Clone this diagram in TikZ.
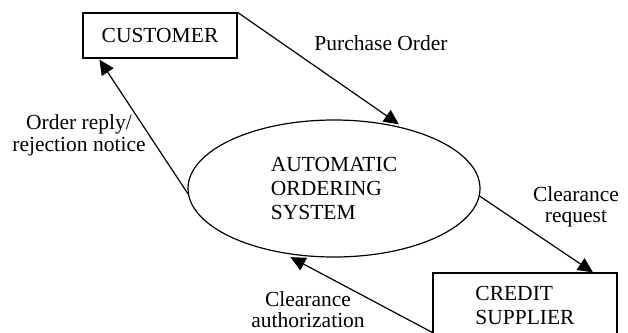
\documentclass[tikz,border=0pt]{standalone}
\usepackage{fontspec}
\setmainfont{Liberation Serif}
\usetikzlibrary{arrows.meta,shapes.geometric}
\begin{document}
\begin{tikzpicture}[x=1pt,y=-1pt,
	entity/.style={draw,line width=1.2pt,inner sep=0pt,font=\fontsize{21.5}{24}\selectfont},
	flow/.style={line width=1.2pt,-{Triangle[length=15pt,width=14pt]}},
	flowlabel/.style={align=center,inner sep=0pt,font=\fontsize{21.5}{21.5}\selectfont}]
	\useasboundingbox (0,0) rectangle (628,332);
	\node[entity,ellipse,minimum width=292pt,minimum height=137pt,align=left] (system) at (334,188.5) {AUTOMATIC\\ORDERING\\SYSTEM};
	\node[entity,minimum width=154pt,minimum height=45pt] (customer) at (160,35.5) {CUSTOMER};
	\node[entity,minimum width=184pt,minimum height=65pt,align=left] (supplier) at (525,305.5) {CREDIT\\SUPPLIER};
	
	\coordinate (replyend) at ([xshift=17pt,yshift=-1pt]customer.south west);
	\coordinate (requestend) at ([xshift=68pt]supplier.north);
	\coordinate (authstart) at ([yshift=-27pt]supplier.west);
	
	\path[flow] (customer.north east) edge[shorten >=6pt] (system.41)
	(system.182.6) edge (replyend)
	(system.-3.3) edge (requestend)
	(authstart) edge[shorten >=8pt] (system.232.8);
	
	\node[flowlabel] (purchase) at (381,43) {Purchase Order};
	\node[flowlabel] (reply) at (79,135.5) {Order reply/\\rejection notice};
	\node[flowlabel] (request) at (576,207) {Clearance\\request};
	\node[flowlabel] (auth) at (308,309.5) {Clearance\\authorization};
\end{tikzpicture}
\end{document}
